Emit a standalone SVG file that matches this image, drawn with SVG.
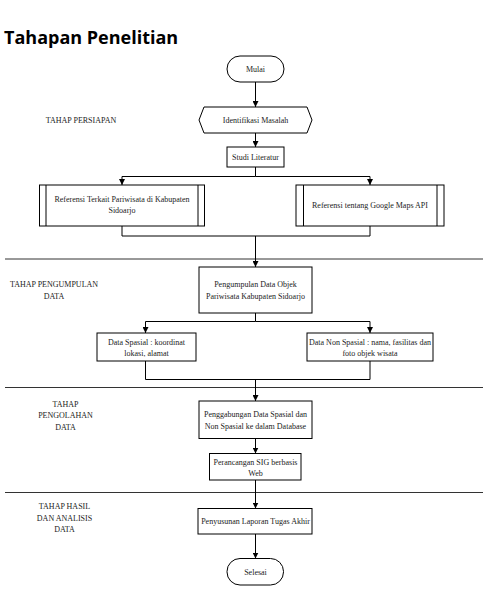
<svg xmlns="http://www.w3.org/2000/svg" width="489" height="601" viewBox="0 0 489 601">
<defs>
<marker id="ah" viewBox="0 0 6 6" refX="6" refY="3" markerWidth="6" markerHeight="6" markerUnits="userSpaceOnUse" orient="auto">
<path d="M0,0 L6,3 L0,6 z" fill="#000"/>
</marker>
</defs>
<style>
.t{font-family:"Liberation Serif","Times New Roman",serif;font-size:8px;fill:#222;text-anchor:middle}
.s{fill:#fff;stroke:#000;stroke-width:1}
.c{fill:none;stroke:#000;stroke-width:1}
.sep{stroke:#333;stroke-width:1}
</style>
<rect width="489" height="601" fill="#fff"/>
<text x="4" y="44" font-family="'Open Sans','Liberation Sans',sans-serif" font-weight="bold" font-size="18" fill="#000">Tahapan Penelitian</text>

<g id="separators">
<line class="sep" x1="5" y1="259" x2="483" y2="259"/>
<line class="sep" x1="5" y1="387.5" x2="483" y2="387.5"/>
<line class="sep" x1="5" y1="492.5" x2="483" y2="492.5"/>
</g>

<g id="labels">
<text class="t" x="81" y="122.5">TAHAP PERSIAPAN</text>
<text class="t" x="54" y="286.5">TAHAP PENGUMPULAN</text>
<text class="t" x="54" y="298.5">DATA</text>
<text class="t" x="65.5" y="406.5">TAHAP</text>
<text class="t" x="65.5" y="418">PENGOLAHAN</text>
<text class="t" x="65.5" y="429.5">DATA</text>
<text class="t" x="64.5" y="509">TAHAP HASIL</text>
<text class="t" x="64.5" y="520.5">DAN ANALISIS</text>
<text class="t" x="64.5" y="532">DATA</text>
</g>

<g id="connectors">
<line class="c" x1="255.5" y1="82" x2="255.5" y2="107" marker-end="url(#ah)"/>
<line class="c" x1="255.5" y1="133" x2="255.5" y2="147" marker-end="url(#ah)"/>
<path class="c" d="M255.5,167 V176.5 H122 V185" marker-end="url(#ah)"/>
<path class="c" d="M255.5,176.5 H370 V185" marker-end="url(#ah)"/>
<path class="c" d="M122,226 V236 H370 V226"/>
<line class="c" x1="255.5" y1="236" x2="255.5" y2="267" marker-end="url(#ah)"/>
<path class="c" d="M255.5,313 V321.5 H145.5 V333" marker-end="url(#ah)"/>
<path class="c" d="M255.5,321.5 H370 V333" marker-end="url(#ah)"/>
<path class="c" d="M145.5,361 V379.5 H370 V361"/>
<line class="c" x1="255.5" y1="379.5" x2="255.5" y2="401" marker-end="url(#ah)"/>
<line class="c" x1="255.5" y1="438.5" x2="255.5" y2="453.5" marker-end="url(#ah)"/>
<line class="c" x1="255.5" y1="480" x2="255.5" y2="508.5" marker-end="url(#ah)"/>
<line class="c" x1="255.5" y1="534" x2="255.5" y2="558.5" marker-end="url(#ah)"/>
</g>

<g id="mulai">
<rect class="s" x="227" y="56" width="57" height="26" rx="13"/>
<text class="t" x="255.5" y="72">Mulai</text>
</g>
<g id="identifikasi">
<polygon class="s" points="204,107 307,107 312,120 307,133 204,133 199,120"/>
<text class="t" x="255.5" y="122.5">Identifikasi Masalah</text>
</g>
<g id="studi">
<rect class="s" x="227" y="147" width="57" height="20"/>
<text class="t" x="255.5" y="159.5">Studi Literatur</text>
</g>
<g id="ref-pariwisata">
<rect class="s" x="39.5" y="185" width="165" height="41"/>
<line class="c" x1="46" y1="185" x2="46" y2="226"/>
<line class="c" x1="198" y1="185" x2="198" y2="226"/>
<text class="t" x="122" y="201.5">Referensi Terkait Pariwisata di Kabupaten</text>
<text class="t" x="122" y="212.5">Sidoarjo</text>
</g>
<g id="ref-google">
<rect class="s" x="296" y="185" width="148" height="41"/>
<line class="c" x1="303.5" y1="185" x2="303.5" y2="226"/>
<line class="c" x1="437" y1="185" x2="437" y2="226"/>
<text class="t" x="370" y="208">Referensi tentang Google Maps API</text>
</g>
<g id="pengumpulan">
<rect class="s" x="199" y="267" width="113" height="46"/>
<text class="t" x="255.5" y="287">Pengumpulan Data Objek</text>
<text class="t" x="255.5" y="298.5">Pariwisata Kabupaten Sidoarjo</text>
</g>
<g id="spasial">
<rect class="s" x="97" y="333" width="99" height="28"/>
<text class="t" x="146.5" y="344.5">Data Spasial : koordinat</text>
<text class="t" x="146.5" y="356">lokasi, alamat</text>
</g>
<g id="nonspasial">
<rect class="s" x="307" y="333" width="126" height="28"/>
<text class="t" x="370" y="344.5">Data Non Spasial : nama, fasilitas dan</text>
<text class="t" x="370" y="356">foto objek wisata</text>
</g>
<g id="penggabungan">
<rect class="s" x="199" y="401" width="113" height="37.5"/>
<text class="t" x="255.5" y="417">Penggabungan Data Spasial dan</text>
<text class="t" x="255.5" y="428.5">Non Spasial ke dalam Database</text>
</g>
<g id="perancangan">
<rect class="s" x="209.5" y="453.5" width="91.5" height="26.5"/>
<text class="t" x="255.5" y="464.5">Perancangan SIG berbasis</text>
<text class="t" x="255.5" y="475.5">Web</text>
</g>
<g id="penyusunan">
<rect class="s" x="198" y="508.5" width="114" height="25.5"/>
<text class="t" x="255.5" y="524">Penyusunan Laporan Tugas Akhir</text>
</g>
<g id="selesai">
<rect class="s" x="227" y="558.5" width="56.5" height="26.5" rx="13"/>
<text class="t" x="255.5" y="574.5">Selesai</text>
</g>
</svg>
